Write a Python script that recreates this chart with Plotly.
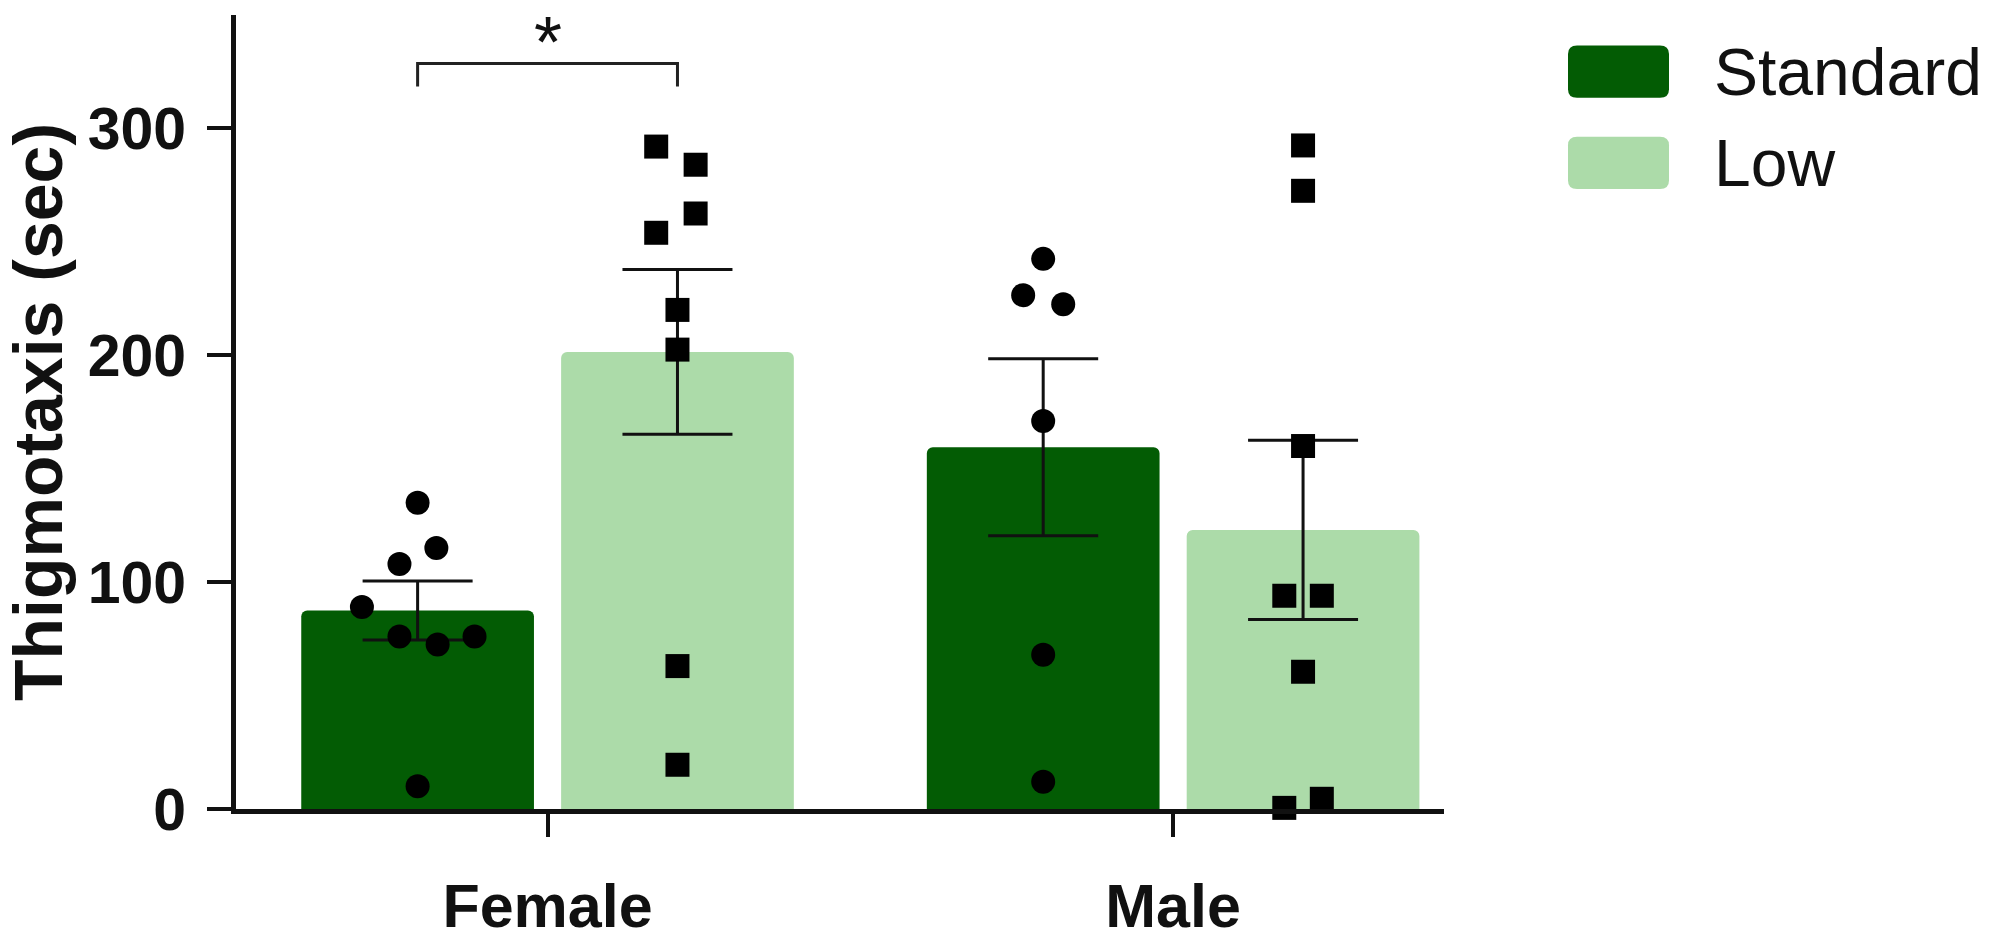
import plotly.graph_objects as go

# groups and series
groups = ["Female", "Male"]
series = ["Standard", "Low"]
bar_colors = ["#035c04", "#acdba9"]

# bar heights (mean) and SEM
std_mean = [87.5, 159.5]
std_sem = [13.0, 39.0]
low_mean = [201.5, 123.0]
low_sem = [36.3, 39.5]

# individual animals (value, horizontal jitter)
f_std_pts = [135, 115, 108, 89, 76, 72.5, 76, 10]
f_std_jit = [0, 0.03, -0.029, -0.089, -0.029, 0.032, 0.091, 0]
f_low_pts = [292, 284, 262.5, 254, 220, 202.5, 63, 19.5]
f_low_jit = [-0.034, 0.029, 0.029, -0.034, 0, 0, 0, 0]
m_std_pts = [242.5, 226.5, 222.5, 171, 68, 12]
m_std_jit = [0, -0.032, 0.032, 0, 0, 0]
m_low_pts = [292.5, 272.5, 160, 94, 94, 60.5, 0.5, 4.5]
m_low_jit = [0, 0, 0, -0.03, 0.03, 0, -0.03, 0.03]

y_ticks = [0, 100, 200, 300]

FONT = "Liberation Sans"
W, H = 1995, 952
L, R, T, B = 236, 551, 15, 102
PW, PH = W - L - R, H - T - B
OFF = 0.2077
BW = 0.372

fig = go.Figure()

means = [std_mean, low_mean]
sems = [std_sem, low_sem]
for si, name in enumerate(series):
    sign = -1 if si == 0 else 1
    fig.add_trace(go.Bar(
        x=[gi + sign * OFF for gi in range(len(groups))],
        y=means[si], width=BW, name=name,
        marker=dict(color=bar_colors[si], line=dict(width=0), cornerradius=6),
        error_y=dict(type="data", array=sems[si], color="#111111", thickness=3, width=55),
        showlegend=False,
    ))

pts = [(0, -OFF, f_std_pts, f_std_jit, "circle"),
       (0, OFF, f_low_pts, f_low_jit, "square"),
       (1, -OFF, m_std_pts, m_std_jit, "circle"),
       (1, OFF, m_low_pts, m_low_jit, "square")]
for gi, off, vals, jit, sym in pts:
    fig.add_trace(go.Scatter(
        x=[gi + off + j for j in jit], y=vals, mode="markers",
        marker=dict(symbol=sym, size=24, color="#000000", line=dict(width=0)),
        cliponaxis=False, showlegend=False,
    ))

# significance bracket
fig.add_shape(type="path", xref="x", yref="y",
              path=f"M {-OFF},318.5 L {-OFF},328.6 L {OFF},328.6 L {OFF},318.5",
              line=dict(color="#222222", width=3))
fig.add_annotation(x=0, y=338, xref="x", yref="y", text="*", showarrow=False,
                   font=dict(family=FONT, size=72, color="#111111"), yanchor="middle")

# legend drawn by hand (rounded swatches)
def px_x(p):
    return (p - L) / PW

def px_y(p):
    return (H - B - p) / PH

def rounded(x0, y0, x1, y1, r):
    rx, ry = r / PW, r / PH
    a, b, c, d = px_x(x0), px_x(x1), px_y(y0), px_y(y1)
    return (f"M {a+rx},{c} L {b-rx},{c} Q {b},{c} {b},{c-ry} L {b},{d+ry} "
            f"Q {b},{d} {b-rx},{d} L {a+rx},{d} Q {a},{d} {a},{d+ry} "
            f"L {a},{c-ry} Q {a},{c} {a+rx},{c} Z")

for si, name in enumerate(series):
    top = 47 + si * 96
    fig.add_shape(type="path", xref="paper", yref="paper",
                  path=rounded(1568, top, 1669, top + 55, 9),
                  fillcolor=bar_colors[si], line=dict(width=0))
    fig.add_annotation(x=px_x(1712), y=px_y(top + 28), xref="paper", yref="paper",
                       text=name, showarrow=False, xanchor="left", yanchor="middle",
                       font=dict(family=FONT, size=66, color="#111111"))

fig.update_layout(
    width=W, height=H,
    margin=dict(l=L, r=R, t=T, b=B),
    plot_bgcolor="white", paper_bgcolor="white",
    barmode="overlay",
)
fig.update_xaxes(
    range=[-0.498, 1.433], tickvals=[0, 1], ticktext=groups,
    showline=True, linecolor="#111111", linewidth=5,
    ticks="outside", ticklen=23, tickwidth=4, tickcolor="#111111",
    ticklabelstandoff=17,
    tickfont=dict(family=FONT, size=61, color="#111111", weight="bold"),
    showgrid=False, zeroline=False,
)
fig.update_yaxes(
    range=[0, 350], tickvals=y_ticks,
    showline=True, linecolor="#111111", linewidth=5,
    ticks="outside", ticklen=24, tickwidth=4, tickcolor="#111111",
    ticklabelstandoff=9,
    tickfont=dict(family=FONT, size=59, color="#111111", weight="bold"),
    title=dict(text="Thigmotaxis (sec)", standoff=18,
               font=dict(family=FONT, size=68, color="#111111", weight="bold")),
    showgrid=False, zeroline=False,
)

fig.write_html("out.html", config={"displayModeBar": False},
               post_script="document.body.style.margin='0';")
